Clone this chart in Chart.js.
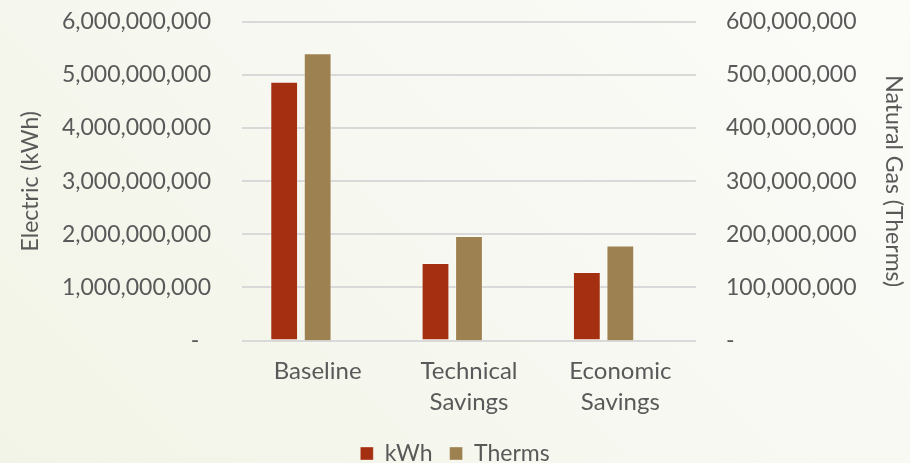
<!DOCTYPE html>
<html>
<head>
<meta charset="utf-8">
<script src="https://cdn.jsdelivr.net/npm/chart.js@4"></script>
<style>
  html, body { margin: 0; padding: 0; }
  body {
    width: 910px; height: 463px; overflow: hidden;
    background: linear-gradient(225deg, #fbfbf8 0%, #f7f8f1 50%, #f1f4e6 100%);
  }
  #frame { position: relative; width: 910px; height: 463px; overflow: hidden; }
  /* chart box is a bit taller than the view so the plot sits close to the top edge */
  #wrap { position: absolute; left: 0; top: -23px; width: 910px; height: 498px; }
</style>
</head>
<body>
<div id="frame"><div id="wrap"><canvas id="savingsChart"></canvas></div></div>
<script>
// Categories and series values
const categories = [['Baseline'], ['Technical', 'Savings'], ['Economic', 'Savings']];
const kwhValues = [4870000000, 1460000000, 1290000000];
const thermValues = [541000000, 197000000, 179000000];
const spacerValues = [null, null, null]; // keeps an empty third slot in each group

const textColor = '#595959';
const fontFamily = 'Lato, "Open Sans", sans-serif';

function fmtTick(value, pad) {
  if (value === 0) return pad ? '-  ' : '-';
  return Number(value).toLocaleString('en-US');
}

const ctx = document.getElementById('savingsChart');

new Chart(ctx, {
  type: 'bar',
  data: {
    labels: categories,
    datasets: [
      {
        label: 'kWh',
        data: kwhValues,
        yAxisID: 'y',
        backgroundColor: '#a52f11',
        borderColor: 'rgba(255,255,255,0.35)',
        borderWidth: 1
      },
      {
        label: 'Therms',
        data: thermValues,
        yAxisID: 'y1',
        backgroundColor: '#9e8150',
        borderColor: 'rgba(255,255,255,0.35)',
        borderWidth: 1
      },
      {
        label: '',
        data: spacerValues,
        yAxisID: 'y',
        backgroundColor: 'rgba(0,0,0,0)'
      }
    ]
  },
  options: {
    responsive: true,
    maintainAspectRatio: false,
    animation: false,
    layout: { padding: { top: 10, left: 0, right: 0, bottom: 0 } },
    datasets: {
      bar: { categoryPercentage: 0.664, barPercentage: 0.83 }
    },
    scales: {
      x: {
        grid: { display: false },
        border: { display: false },
        ticks: {
          color: textColor,
          padding: 7,
          maxRotation: 0,
          font: { family: fontFamily, size: 24, lineHeight: 1.3 }
        }
      },
      y: {
        position: 'left',
        min: 0,
        max: 6000000000,
        afterFit: function(scale) { scale.width = 242; },
        grid: { color: '#d9d9d9', lineWidth: 2, drawTicks: false },
        border: { display: false },
        ticks: {
          stepSize: 1000000000,
          color: textColor,
          padding: 31,
          font: { family: fontFamily, size: 23 },
          callback: function(value) { return fmtTick(value, true); }
        },
        title: {
          display: true,
          text: 'Electric (kWh)',
          color: textColor,
          padding: { top: 17, bottom: 0 },
          font: { family: fontFamily, size: 23 }
        }
      },
      y1: {
        position: 'right',
        min: 0,
        max: 600000000,
        afterFit: function(scale) { scale.width = 214; },
        grid: { display: false, drawTicks: false },
        border: { display: false },
        ticks: {
          stepSize: 100000000,
          color: textColor,
          padding: 30,
          font: { family: fontFamily, size: 23 },
          callback: function(value) { return fmtTick(value, false); }
        },
        title: {
          display: true,
          text: 'Natural Gas (Therms)',
          color: textColor,
          padding: { top: 3, bottom: 0 },
          font: { family: fontFamily, size: 23 }
        }
      }
    },
    plugins: {
      legend: {
        position: 'bottom',
        labels: {
          color: textColor,
          boxWidth: 13,
          boxHeight: 13,
          padding: 17,
          font: { family: fontFamily, size: 23 },
          filter: function(item) { return item.text !== ''; }
        }
      },
      tooltip: { enabled: false }
    }
  }
});
</script>
</body>
</html>
